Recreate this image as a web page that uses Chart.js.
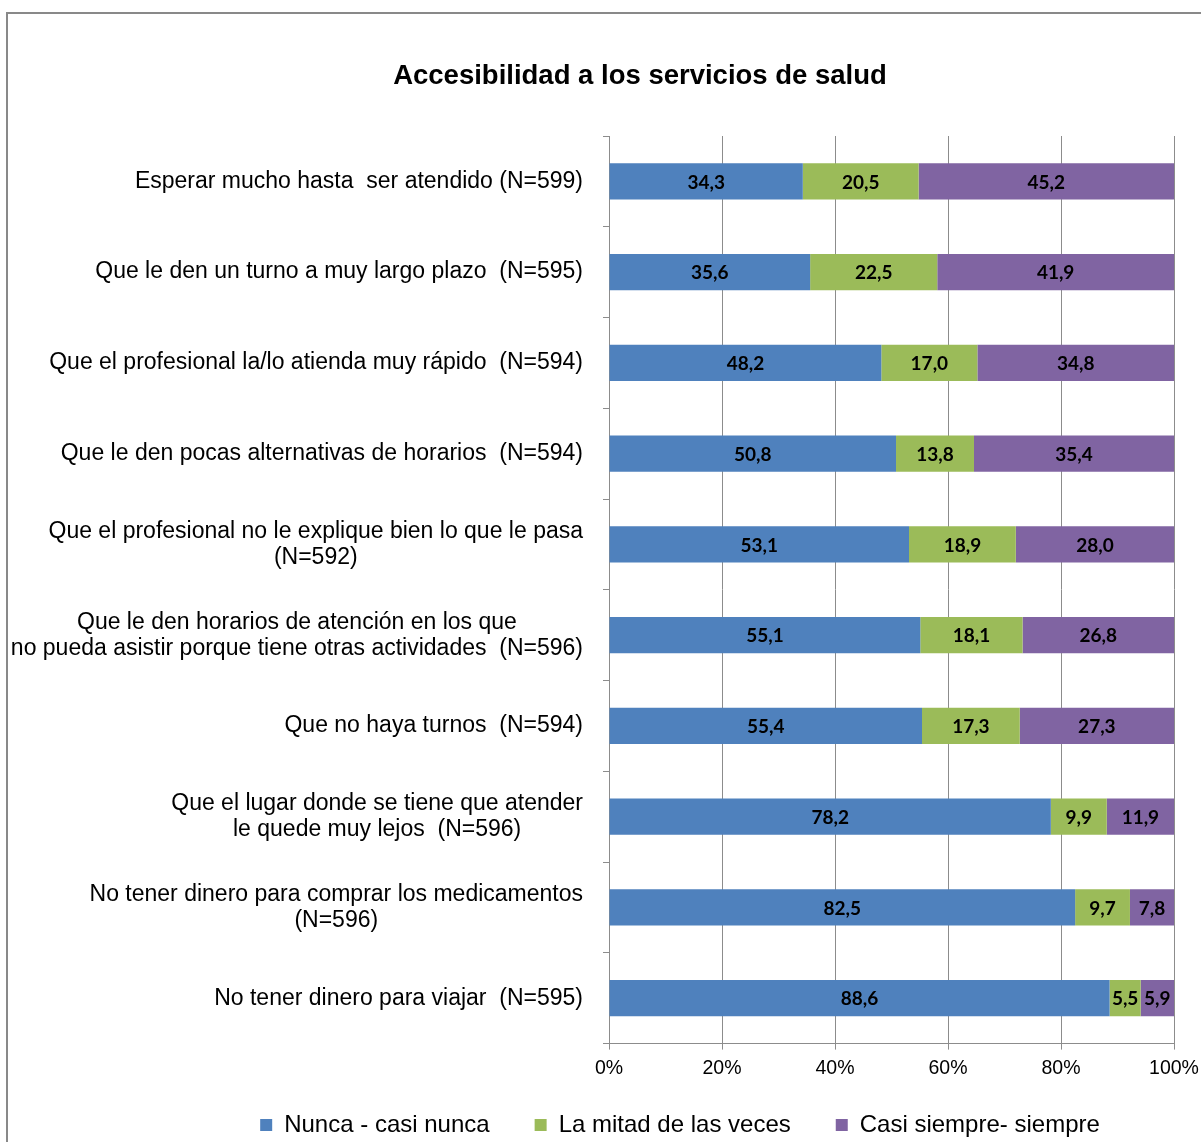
<!doctype html>
<html lang="es">
<head>
<meta charset="utf-8">
<title>Accesibilidad a los servicios de salud</title>
<script src="https://cdn.jsdelivr.net/npm/chart.js@4.4.0/dist/chart.umd.min.js"></script>
<style>
  html, body { margin: 0; padding: 0; background: #fff; overflow: hidden; }
  #frame { position: absolute; left: 6px; top: 12px; width: 1400px; height: 1300px; border: 2px solid #898989; }
  #wrap { position: absolute; left: 0; top: 0; width: 1201px; height: 1142px; }
</style>
</head>
<body>
<div id="frame"></div>
<div id="wrap"><canvas id="accChart"></canvas></div>
<script>
// categories, top to bottom
var categories = [
  "Esperar mucho hasta  ser atendido (N=599)",
  "Que le den un turno a muy largo plazo  (N=595)",
  "Que el profesional la/lo atienda muy rápido  (N=594)",
  "Que le den pocas alternativas de horarios  (N=594)",
  ["Que el profesional no le explique bien lo que le pasa", "(N=592)"],
  ["Que le den horarios de atención en los que", "no pueda asistir porque tiene otras actividades  (N=596)"],
  "Que no haya turnos  (N=594)",
  ["Que el lugar donde se tiene que atender", "le quede muy lejos  (N=596)"],
  ["No tener dinero para comprar los medicamentos", "(N=596)"],
  "No tener dinero para viajar  (N=595)"
];
var seriesNames = ["Nunca - casi nunca", "La mitad de las veces", "Casi siempre- siempre"];
var nunca = [34.3, 35.6, 48.2, 50.8, 53.1, 55.1, 55.4, 78.2, 82.5, 88.6];
var mitad = [20.5, 22.5, 17.0, 13.8, 18.9, 18.1, 17.3, 9.9, 9.7, 5.5];
var siempre = [45.2, 41.9, 34.8, 35.4, 28.0, 26.8, 27.3, 11.9, 7.8, 5.9];
var xTicks = [0, 20, 40, 60, 80, 100];

var colors = ["#4F81BD", "#9BBB59", "#8064A2"];
var legendDx = 93, legendTop = 1068, titleDx = 53;

Chart.defaults.font.family = "'Liberation Sans', Arial, sans-serif";
Chart.defaults.color = "#000";

// value labels in the middle of each segment
var barLabels = {
  id: "barLabels",
  afterDatasetsDraw: function(chart) {
    var ctx = chart.ctx;
    ctx.save();
    ctx.font = "bold 19px Lato, 'DejaVu Sans', sans-serif";
    ctx.fillStyle = "#000";
    ctx.textAlign = "center";
    ctx.textBaseline = "middle";
    chart.data.datasets.forEach(function(ds, i) {
      chart.getDatasetMeta(i).data.forEach(function(bar, j) {
        var p = bar.getProps(["x", "base", "y"], true);
        ctx.fillText(ds.data[j].toFixed(1).replace(".", ","), (p.x + p.base) / 2, p.y + 1);
      });
    });
    ctx.restore();
  }
};

// wrapped labels: center lines on each other, like Excel does
var centerWrapped = {
  id: "centerWrapped",
  beforeDraw: function(chart) {
    var ctx = chart.ctx;
    chart.scales.y.getLabelItems().forEach(function(item) {
      if (!Array.isArray(item.label) || item._centered) return;
      ctx.save();
      ctx.font = item.font.string;
      var w = Math.max.apply(null, item.label.map(function(s) { return ctx.measureText(s).width; }));
      ctx.restore();
      item.options.textAlign = "center";
      item.options.translation[0] -= w / 2;
      item._centered = true;
    });
  }
};

// nudge title and legend to where Excel put them
var shiftBoxes = {
  id: "shiftBoxes",
  afterLayout: function(chart) {
    var t = chart.titleBlock, l = chart.legend;
    t.left += titleDx; t.right += titleDx;
    l.left += legendDx; l.right += legendDx;
    l.top = legendTop; l.bottom = chart.height;
  }
};

var ctxA = document.getElementById("accChart").getContext("2d");
var accChart = new Chart(ctxA, {
  type: "bar",
  data: {
    labels: categories,
    datasets: [
      { label: seriesNames[0], data: nunca, backgroundColor: colors[0] },
      { label: seriesNames[1], data: mitad, backgroundColor: colors[1] },
      { label: seriesNames[2], data: siempre, backgroundColor: colors[2] }
    ]
  },
  options: {
    indexAxis: "y",
    responsive: true,
    maintainAspectRatio: false,
    animation: false,
    layout: { padding: { left: 0, right: 27, top: 0, bottom: 15 } },
    datasets: { bar: { barPercentage: 0.4, categoryPercentage: 1.0, borderWidth: 0 } },
    scales: {
      x: {
        stacked: true,
        min: 0,
        max: 100,
        afterBuildTicks: function(scale) {
          scale.ticks = xTicks.map(function(v) { return { value: v }; });
        },
        afterFit: function(scale) { scale.paddingLeft = 0; scale.paddingRight = 0; },
        ticks: {
          font: { size: 19.5 },
          color: "#000",
          padding: 7,
          callback: function(v) { return v + "%"; }
        },
        grid: { color: "#8c8c8c", tickLength: 6, tickColor: "#8c8c8c" },
        border: { color: "#8c8c8c" }
      },
      y: {
        stacked: true,
        afterFit: function(scale) { scale.width = 609; },
        ticks: { font: { size: 23, lineHeight: 1.13 }, color: "#000", padding: 20 },
        grid: { drawOnChartArea: false, tickLength: 6, color: "#8c8c8c" },
        border: { color: "#8c8c8c" }
      }
    },
    plugins: {
      title: {
        display: true,
        text: "Accesibilidad a los servicios de salud",
        font: { size: 27.5, weight: "bold" },
        color: "#000",
        padding: { top: 60, bottom: 43 }
      },
      legend: {
        position: "bottom",
        maxHeight: 40,
        labels: {
          boxWidth: 12,
          boxHeight: 12,
          padding: 45,
          color: "#000",
          font: { size: 24 }
        }
      },
      tooltip: { enabled: false }
    }
  },
  plugins: [barLabels, centerWrapped, shiftBoxes]
});
</script>
</body>
</html>
